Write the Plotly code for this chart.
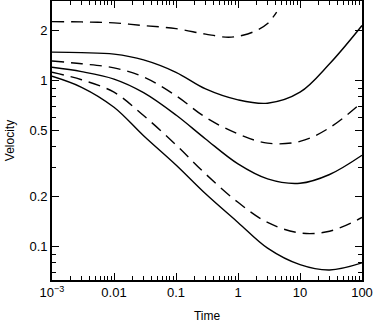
import plotly.graph_objects as go

# time values (log axis) and the velocity curves
time = [0.001, 0.003, 0.01, 0.03, 0.1, 0.3, 1, 3, 10, 30, 100]

vel_solid_1 = [1.48, 1.47, 1.44, 1.33, 1.12, 0.89, 0.765, 0.73, 0.85, 1.26, 2.14]
vel_dash_2 = [1.31, 1.26, 1.19, 1.05, 0.81, 0.60, 0.477, 0.42, 0.43, 0.52, 0.74]
vel_solid_3 = [1.20, 1.13, 1.02, 0.845, 0.62, 0.445, 0.315, 0.256, 0.241, 0.272, 0.355]
vel_dash_4 = [1.12, 1.01, 0.85, 0.615, 0.41, 0.274, 0.185, 0.14, 0.121, 0.124, 0.150]
vel_solid_5 = [1.06, 0.91, 0.69, 0.465, 0.31, 0.208, 0.14, 0.098, 0.078, 0.0725, 0.080]

# top dashed curve stops early
time_top = [0.001, 0.003, 0.01, 0.03, 0.1, 0.3, 0.7, 1.2, 2, 3, 4.2]
vel_dash_top = [2.26, 2.25, 2.22, 2.14, 2.05, 1.90, 1.82, 1.87, 2.0, 2.2, 2.58]

x_tickvals = [0.001, 0.01, 0.1, 1, 10, 100]
x_ticktext = ["10<sup>\u22123</sup>", "0.01", "0.1", "1", "10", "100"]
y_tickvals = [0.1, 0.2, 0.5, 1, 2]
y_ticktext = ["0.1", "0.2", "0.5", "1", "2"]

x_minor = [m * 10 ** e for e in range(-3, 2) for m in range(2, 10)]
y_minor = [0.07, 0.08, 0.09, 0.3, 0.4, 0.6, 0.7, 0.8, 0.9]

fig = go.Figure()

curves = [
    (time_top, vel_dash_top, "12px,7px"),
    (time, vel_solid_1, "solid"),
    (time, vel_dash_2, "12px,7px"),
    (time, vel_solid_3, "solid"),
    (time, vel_dash_4, "12px,7px"),
    (time, vel_solid_5, "solid"),
]
for xs, ys, dash in curves:
    fig.add_trace(go.Scatter(x=xs, y=ys, mode="lines",
                             line=dict(color="black", width=1.4, dash=dash,
                                       shape="spline", smoothing=1.0),
                             showlegend=False, hoverinfo="skip"))

axis_common = dict(showgrid=False, zeroline=False, showline=True, linecolor="black",
                   linewidth=1.6, mirror="allticks", ticks="inside", ticklen=7,
                   tickwidth=1, tickcolor="black", automargin=False,
                   tickfont=dict(family="Liberation Sans, Arial", size=13, color="black"))

fig.update_xaxes(type="log", range=[-3, 2], tickmode="array",
                 tickvals=x_tickvals, ticktext=x_ticktext,
                 minor=dict(tickmode="array", tickvals=x_minor, ticks="inside",
                            ticklen=4, tickcolor="black", showgrid=False),
                 title=dict(text="Time", standoff=17,
                            font=dict(family="Liberation Sans, Arial", size=12, color="black")),
                 **axis_common)
fig.update_yaxes(type="log", range=[-1.2, 0.478], tickmode="array",
                 tickvals=y_tickvals, ticktext=y_ticktext,
                 minor=dict(tickmode="array", tickvals=y_minor, ticks="inside",
                            ticklen=4, tickcolor="black", showgrid=False),
                 title=dict(text="Velocity", standoff=12,
                            font=dict(family="Liberation Sans, Arial", size=12, color="black")),
                 **axis_common)

fig.update_layout(width=374, height=323, margin=dict(l=52, r=12, t=1, b=43),
                  plot_bgcolor="white", paper_bgcolor="white")

# drop the browser's default body margin so the figure sits at the page corner
fig.write_html("out.html", config={"displayModeBar": False},
               post_script="document.body.style.margin='0';")
